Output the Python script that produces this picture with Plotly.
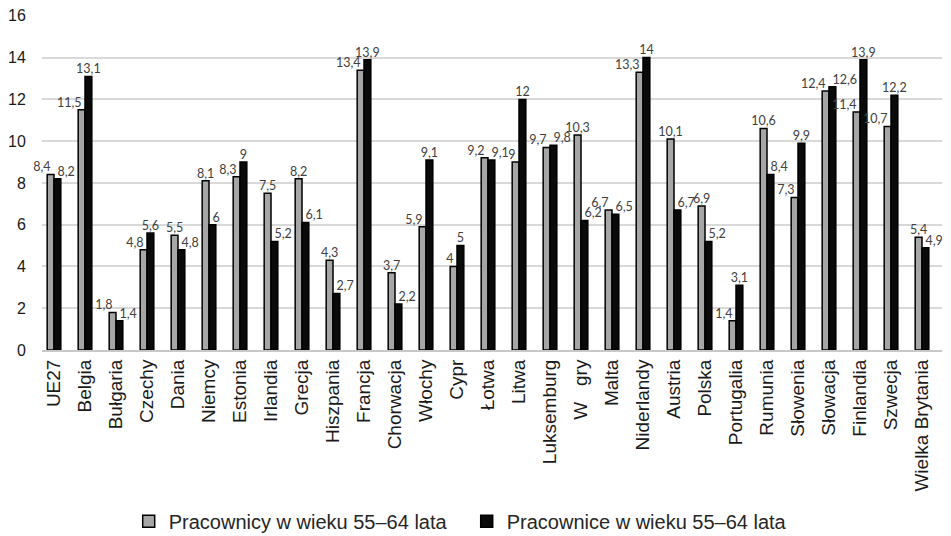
import numpy as np
import plotly.graph_objects as go

categories = ["UE27", "Belgia", "Bułgaria", "Czechy", "Dania", "Niemcy", "Estonia", "Irlandia",
              "Grecja", "Hiszpania", "Francja", "Chorwacja", "Włochy", "Cypr", "Łotwa", "Litwa",
              "Luksemburg", "W\u00a0\u00a0\u00a0gry", "Malta", "Niderlandy", "Austria", "Polska",
              "Portugalia", "Rumunia", "Słowenia", "Słowacja", "Finlandia", "Szwecja",
              "Wielka Brytania"]
men = [8.4, 11.5, 1.8, 4.8, 5.5, 8.1, 8.3, 7.5, 8.2, 4.3, 13.4, 3.7, 5.9, 4, 9.2, 9, 9.7, 10.3,
       6.7, 13.3, 10.1, 6.9, 1.4, 10.6, 7.3, 12.4, 11.4, 10.7, 5.4]
women = [8.2, 13.1, 1.4, 5.6, 4.8, 6, 9, 5.2, 6.1, 2.7, 13.9, 2.2, 9.1, 5, 9.1, 12, 9.8, 6.2,
         6.5, 14, 6.7, 5.2, 3.1, 8.4, 9.9, 12.6, 13.9, 12.2, 4.9]
y_ticks = [0, 2, 4, 6, 8, 10, 12, 14, 16]
name_men = "Pracownicy w wieku 55–64 lata"
name_women = "Pracownice w wieku 55–64 lata"


def fmt(v):
    return ("%g" % v).replace(".", ",")


idx = np.arange(len(categories))
off = 0.11
bw = 0.22

pos_m, pos_w = [], []
for g, b in zip(men, women):
    d = g - b
    if abs(d) <= 0.4 + 1e-9:
        pos_m.append("top left"); pos_w.append("top right")
    elif d > 0:
        pos_m.append("top center"); pos_w.append("top right")
    else:
        pos_m.append("top left"); pos_w.append("top center")

fig = go.Figure()
fig.add_trace(go.Bar(x=idx - off, y=men, width=bw, name=name_men,
                     marker=dict(color="#a6a6a6", line=dict(color="#000000", width=1.5)),
                     hoverinfo="skip"))
fig.add_trace(go.Bar(x=idx + off, y=women, width=bw, name=name_women,
                     marker=dict(color="#0a0a0a", line=dict(color="#000000", width=1.5)),
                     hoverinfo="skip"))

lab_font = dict(family="Lato, Carlito, Calibri, sans-serif", size=12.5, color="#404040")
fig.add_trace(go.Scatter(x=idx - off, y=men, mode="text", text=[fmt(v) for v in men],
                         textposition=pos_m, textfont=lab_font, showlegend=False,
                         hoverinfo="skip", cliponaxis=False))
fig.add_trace(go.Scatter(x=idx + off, y=women, mode="text", text=[fmt(v) for v in women],
                         textposition=pos_w, textfont=lab_font, showlegend=False,
                         hoverinfo="skip", cliponaxis=False))

# the page body has an 8px margin, so the figure is sized to 943x528
fig.update_layout(
    width=943, height=528,
    margin=dict(l=34, r=9, t=7, b=186, autoexpand=False),
    paper_bgcolor="white", plot_bgcolor="white",
    barmode="overlay",
    font=dict(family="Liberation Sans, Arial, sans-serif", color="#262626"),
    legend=dict(orientation="h", xref="container", yref="container",
                x=0.128, xanchor="left", y=0.028, yanchor="middle",
                font=dict(size=20, color="#262626"), itemwidth=30,
                entrywidth=293, entrywidthmode="pixels",
                traceorder="normal"),
    showlegend=True,
)
fig.update_xaxes(
    range=[-0.387, 28.645], tickmode="array", tickvals=idx, ticktext=categories,
    tickangle=-90, tickfont=dict(size=19, color="#1a1a1a"),
    showgrid=False, zeroline=False, showline=True, linecolor="#c8c8c8", linewidth=2,
    ticks="", fixedrange=True,
)
fig.update_yaxes(
    range=[0, 16.04], tickvals=y_ticks, ticktext=[str(t) for t in y_ticks],
    tickfont=dict(size=16, color="#1a1a1a"), showgrid=True, gridcolor="#d9d9d9", gridwidth=1.5,
    zeroline=False, showline=False, ticks="outside", ticklen=12, tickcolor="rgba(0,0,0,0)",
    ticklabeloverflow="allow", fixedrange=True,
)

fig.write_html("out.html")
